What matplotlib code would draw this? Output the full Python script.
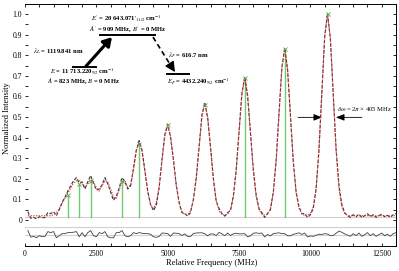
import numpy as np
import matplotlib
matplotlib.use("Agg")
import matplotlib.pyplot as plt
from matplotlib.ticker import MultipleLocator, FixedLocator

plt.rcParams['font.family'] = ['Liberation Serif', 'DejaVu Serif']
plt.rcParams['mathtext.fontset'] = 'stix'

# frequency grid of the scan (MHz)
freq = np.arange(100, 13100, 100)

# measured spectrum (normalised)
data = [0.04, 0.008, 0.012, 0.005, 0.015, 0.01, 0.012, 0.035, 0.03, 0.04,
        0.02, 0.05, 0.085, 0.11, 0.14, 0.165, 0.19, 0.205, 0.18, 0.185,
        0.15, 0.185, 0.215, 0.18, 0.145, 0.15, 0.17, 0.205, 0.175, 0.135,
        0.095, 0.115, 0.155, 0.205, 0.185, 0.15, 0.165, 0.25, 0.34, 0.385,
        0.34, 0.24, 0.14, 0.075, 0.045, 0.07, 0.155, 0.295, 0.415, 0.465,
        0.4, 0.295, 0.17, 0.085, 0.035, 0.03, 0.018, 0.035, 0.1, 0.205,
        0.36, 0.51, 0.57, 0.495, 0.355, 0.2, 0.09, 0.055, 0.03, 0.018,
        0.035, 0.045, 0.115, 0.245, 0.43, 0.615, 0.695, 0.6, 0.42, 0.245,
        0.12, 0.055, 0.035, 0.012, 0.03, 0.05, 0.135, 0.29, 0.52, 0.74,
        0.835, 0.73, 0.505, 0.285, 0.135, 0.065, 0.03, 0.03, 0.012, 0.025,
        0.055, 0.15, 0.34, 0.615, 0.89, 1.003, 0.88, 0.61, 0.345, 0.17,
        0.075, 0.035, 0.02, 0.012, 0.025, 0.015, 0.028, 0.012, 0.02, 0.03,
        0.015, 0.025, 0.012, 0.02, 0.028, 0.015, 0.022, 0.012, 0.025, 0.03]

# fitted hyperfine profile
fit = [0.02, 0.02, 0.02, 0.02, 0.02, 0.02, 0.02, 0.02, 0.02, 0.025,
       0.035, 0.055, 0.08, 0.105, 0.13, 0.155, 0.178, 0.19, 0.19, 0.175,
       0.16, 0.175, 0.195, 0.185, 0.155, 0.14, 0.165, 0.19, 0.185, 0.15,
       0.11, 0.105, 0.145, 0.185, 0.19, 0.16, 0.17, 0.24, 0.335, 0.375,
       0.333, 0.235, 0.135, 0.073, 0.055, 0.083, 0.164, 0.287, 0.408, 0.46,
       0.408, 0.287, 0.163, 0.08, 0.039, 0.026, 0.027, 0.044, 0.094, 0.197,
       0.351, 0.501, 0.565, 0.501, 0.351, 0.197, 0.094, 0.044, 0.026, 0.023,
       0.027, 0.049, 0.111, 0.238, 0.426, 0.611, 0.69, 0.611, 0.426, 0.238,
       0.111, 0.049, 0.027, 0.023, 0.029, 0.056, 0.13, 0.283, 0.511, 0.735,
       0.83, 0.735, 0.511, 0.283, 0.13, 0.056, 0.029, 0.022, 0.023, 0.031,
       0.063, 0.153, 0.338, 0.614, 0.885, 1.0, 0.885, 0.614, 0.338, 0.153,
       0.063, 0.031, 0.022, 0.02, 0.02, 0.02, 0.02, 0.02, 0.02, 0.02,
       0.02, 0.02, 0.02, 0.02, 0.02, 0.02, 0.02, 0.02, 0.02, 0.02]

# hyperfine components (position MHz, relative intensity)
comp_pos = [1500, 1900, 2300, 3400, 4000, 5000, 6300, 7700, 9100, 10600]
comp_int = [0.12, 0.175, 0.19, 0.19, 0.37, 0.46, 0.56, 0.69, 0.83, 1.0]
comp_line = [True, True, True, True, True, False, False, True, True, False]

baseline = 0.015
res_off = -0.072

data = np.array(data)
fit = np.array(fit)
resid = data - fit

fig = plt.figure(figsize=(3.99, 2.71), dpi=100)
ax = fig.add_axes([0.0627, 0.0923, 0.9298, 0.893])

ax.axhline(baseline, color='0.82', lw=0.8, zorder=1)
ax.axhline(-0.033, color='0.82', lw=0.8, zorder=1)
ax.axhline(res_off, color='0.82', lw=0.8, zorder=1)

for p, h, show in zip(comp_pos, comp_int, comp_line):
    if show:
        ax.plot([p, p], [baseline, h], color='#70c870', lw=1.0, zorder=2)
    ax.plot(p, h, 'x', color='#4caf50', ms=2.5, mew=0.6, zorder=5)

ax.plot(freq, data, color='0.2', lw=0.8, ls=(0, (3, 1.5)), zorder=3)
ax.plot(freq, fit, color='#e8333a', lw=0.8, ls=(0, (1.2, 1.2)), zorder=4)
ax.plot(freq, resid + res_off, color='0.25', lw=0.6, zorder=3)

# level scheme
ax.plot([2628, 4555], [0.898, 0.898], color='k', lw=1.4)
ax.plot([1682, 2488], [0.743, 0.743], color='k', lw=1.4)
ax.plot([4975, 5746], [0.709, 0.709], color='k', lw=1.4)
ax.annotate('', xy=(3048, 0.888), xytext=(2137, 0.747),
            arrowprops=dict(arrowstyle='-|>,head_length=0.5,head_width=0.3',
                            lw=2.2, color='k', shrinkA=0, shrinkB=0))
ax.plot([4485, 5130], [0.888, 0.745], color='k', lw=1.2, ls=(0, (3, 2)))
ax.annotate('', xy=(5256, 0.718), xytext=(5130, 0.745),
            arrowprops=dict(arrowstyle='-|>,head_length=0.6,head_width=0.3',
                            lw=1.0, color='k', shrinkA=0, shrinkB=0))

fs = 4.8
ax.text(3540, 0.98, r"$E'$ = 20 643.071$'_{11/2}$ cm$^{-1}$", fontsize=fs,
        fontweight='bold', ha='center', va='center')
ax.text(3610, 0.924, r"$A'$ = 909 MHz, $B'$ = 0 MHz", fontsize=fs,
        fontweight='bold', ha='center', va='center')
ax.text(2015, 0.72, r"$E$ = 11 713.220$_{9/2}$ cm$^{-1}$", fontsize=fs,
        fontweight='bold', ha='center', va='center')
ax.text(2067, 0.672, r"$A$ = 823 MHz, $B$ = 0 MHz", fontsize=fs,
        fontweight='bold', ha='center', va='center')
ax.text(280, 0.82, r"$\lambda_L$ = 1119.841 nm", fontsize=fs,
        fontweight='bold', ha='left', va='center')
ax.text(5011, 0.801, r"$\lambda_F$ = 616.7 nm", fontsize=fs,
        fontweight='bold', ha='left', va='center')
ax.text(4975, 0.671, r"$E_F$ = 4432.240$_{9/2}$ cm$^{-1}$", fontsize=fs,
        fontweight='bold', ha='left', va='center')
ax.text(10932, 0.539, r"$\delta\omega$ = 2$\pi$ × 405 MHz", fontsize=fs,
        ha='left', va='center')
ax.annotate('', xy=(10406, 0.498), xytext=(9566, 0.498),
            arrowprops=dict(arrowstyle='-|>,head_length=0.5,head_width=0.2',
                            lw=0.6, color='k', shrinkA=0, shrinkB=0))
ax.annotate('', xy=(10897, 0.498), xytext=(11808, 0.498),
            arrowprops=dict(arrowstyle='-|>,head_length=0.5,head_width=0.2',
                            lw=0.6, color='k', shrinkA=0, shrinkB=0))

ax.set_xlim(0, 13000)
ax.set_ylim(-0.127, 1.049)
ax.spines['left'].set_visible(False)
for s in ['top', 'right', 'bottom']:
    ax.spines[s].set_linewidth(0.7)

ax.xaxis.set_major_locator(FixedLocator([0, 2500, 5000, 7500, 10000, 12500]))
ax.xaxis.set_minor_locator(MultipleLocator(500))
yt = [i / 10 for i in range(11)]
ax.yaxis.set_major_locator(FixedLocator(yt))
ax.set_yticklabels(['0'] + ['%.1f' % v for v in yt[1:]])
ax.yaxis.set_minor_locator(FixedLocator([0.05 + i / 10 for i in range(10)]))
ax.tick_params(axis='x', which='both', direction='in', top=True,
               length=2.5, width=0.6, labelsize=5.5, pad=3)
ax.tick_params(axis='y', which='both', direction='in', right=True,
               length=2, width=0.6, labelsize=5.5, pad=2)

fig.text(0.53, 0.03, 'Relative Frequency (MHz)', fontsize=6,
         ha='center', va='center')
fig.text(0.018, 0.565, 'Normalized Intensity', fontsize=6, rotation=90,
         ha='center', va='center')

fig.savefig('out.png', dpi=100)
